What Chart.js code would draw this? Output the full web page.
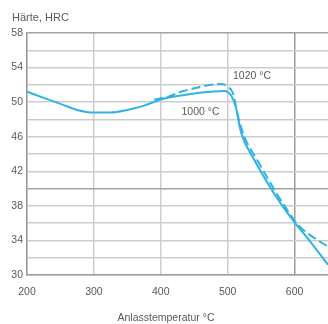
<!DOCTYPE html>
<html>
<head>
<meta charset="utf-8">
<script src="https://cdn.jsdelivr.net/npm/chart.js@4.4.1/dist/chart.umd.min.js"></script>
<style>
  html, body { margin: 0; padding: 0; background: #fff; }
  #chart { display: block; }
</style>
</head>
<body>
<canvas id="chart" width="328" height="324"></canvas>
<script>
// Anlasskurven: Härte über Anlasstemperatur für zwei Härtetemperaturen
const temps1000 = [200, 225, 250, 275, 300, 325, 350, 375, 400, 425, 450, 475, 495, 505, 512, 520, 540, 560, 580, 600, 620, 640, 650];
const hrc1000 = [51.2, 50.5, 49.8, 49.1, 48.8, 48.8, 49.1, 49.6, 50.3, 50.7, 51.0, 51.2, 51.3, 50.8, 49.5, 46.5, 43.3, 40.6, 38.2, 36.1, 34.2, 32.2, 31.2];

const temps1020 = [390, 410, 430, 450, 475, 490, 500, 508, 515, 525, 545, 565, 585, 605, 620, 635, 650];
const hrc1020 = [50.3, 50.6, 51.2, 51.6, 52.0, 52.1, 51.8, 51.0, 48.5, 46.0, 43.2, 40.5, 38.0, 35.8, 34.8, 34.0, 33.3];

const xTicks = [200, 300, 400, 500, 600];
const yLabels = [30, 34, 38, 42, 46, 50, 54, 58];

const curveLabels = ["1000 °C", "1020 °C"];

const lineColor = "#2fb3e3";
const textColor = "#5a5a5a";
const family = "Liberation Sans, Arial, sans-serif";
const font = { family: family, size: 10.5 };

const toPoints = (xs, ys) => xs.map((x, i) => ({ x: x, y: ys[i] }));

// axis captions and curve labels
const textPlugin = {
  id: "texts",
  afterDraw(chart) {
    const c = chart.ctx;
    const x = chart.scales.x;
    const y = chart.scales.y;
    c.save();
    c.fillStyle = textColor;
    c.font = "11px " + family;
    c.textBaseline = "middle";
    c.textAlign = "left";
    c.fillText("Härte, HRC", 12, 18);
    c.font = "10.5px " + family;
    c.fillText(curveLabels[0], x.getPixelForValue(431), y.getPixelForValue(48.8));
    c.fillText(curveLabels[1], x.getPixelForValue(508), y.getPixelForValue(53.0));
    c.textAlign = "center";
    c.fillText("Anlasstemperatur °C", 166, 318);
    c.restore();
  }
};

new Chart(document.getElementById("chart"), {
  type: "line",
  data: {
    datasets: [
      {
        label: curveLabels[0],
        data: toPoints(temps1000, hrc1000),
        borderColor: lineColor,
        borderWidth: 2,
        pointRadius: 0,
        cubicInterpolationMode: "monotone",
        fill: false
      },
      {
        label: curveLabels[1],
        data: toPoints(temps1020, hrc1020),
        borderColor: lineColor,
        borderWidth: 2,
        borderDash: [9, 4],
        pointRadius: 0,
        cubicInterpolationMode: "monotone",
        fill: false
      }
    ]
  },
  options: {
    responsive: false,
    animation: false,
    layout: { padding: { top: 33, right: 0, left: 0, bottom: 0 } },
    plugins: {
      legend: { display: false },
      tooltip: { enabled: false }
    },
    scales: {
      x: {
        type: "linear",
        min: 200,
        max: 650,
        afterBuildTicks(scale) {
          scale.ticks = xTicks.map(v => ({ value: v }));
        },
        afterFit(scale) { scale.height = 49; },
        ticks: { color: textColor, font: font, padding: 11, maxRotation: 0 },
        grid: {
          color: ctx => (ctx.tick && ctx.tick.value === 600 ? "#9b9b9b" : "#cdcdcd"),
          lineWidth: 1.5,
          drawTicks: false
        },
        border: { color: "#9b9b9b", width: 1.5 }
      },
      y: {
        min: 30,
        max: 58,
        afterFit(scale) { scale.width = 27; },
        ticks: {
          stepSize: 2,
          color: textColor,
          font: font,
          padding: 4,
          callback: v => (yLabels.includes(v) ? v : "")
        },
        grid: {
          color: ctx => (ctx.tick && (ctx.tick.value === 40 || ctx.tick.value === 58) ? "#a3a3a3" : "#cdcdcd"),
          lineWidth: 1.5,
          drawTicks: false
        },
        border: { color: "#9b9b9b", width: 1.5 }
      }
    }
  },
  plugins: [textPlugin]
});
</script>
</body>
</html>
